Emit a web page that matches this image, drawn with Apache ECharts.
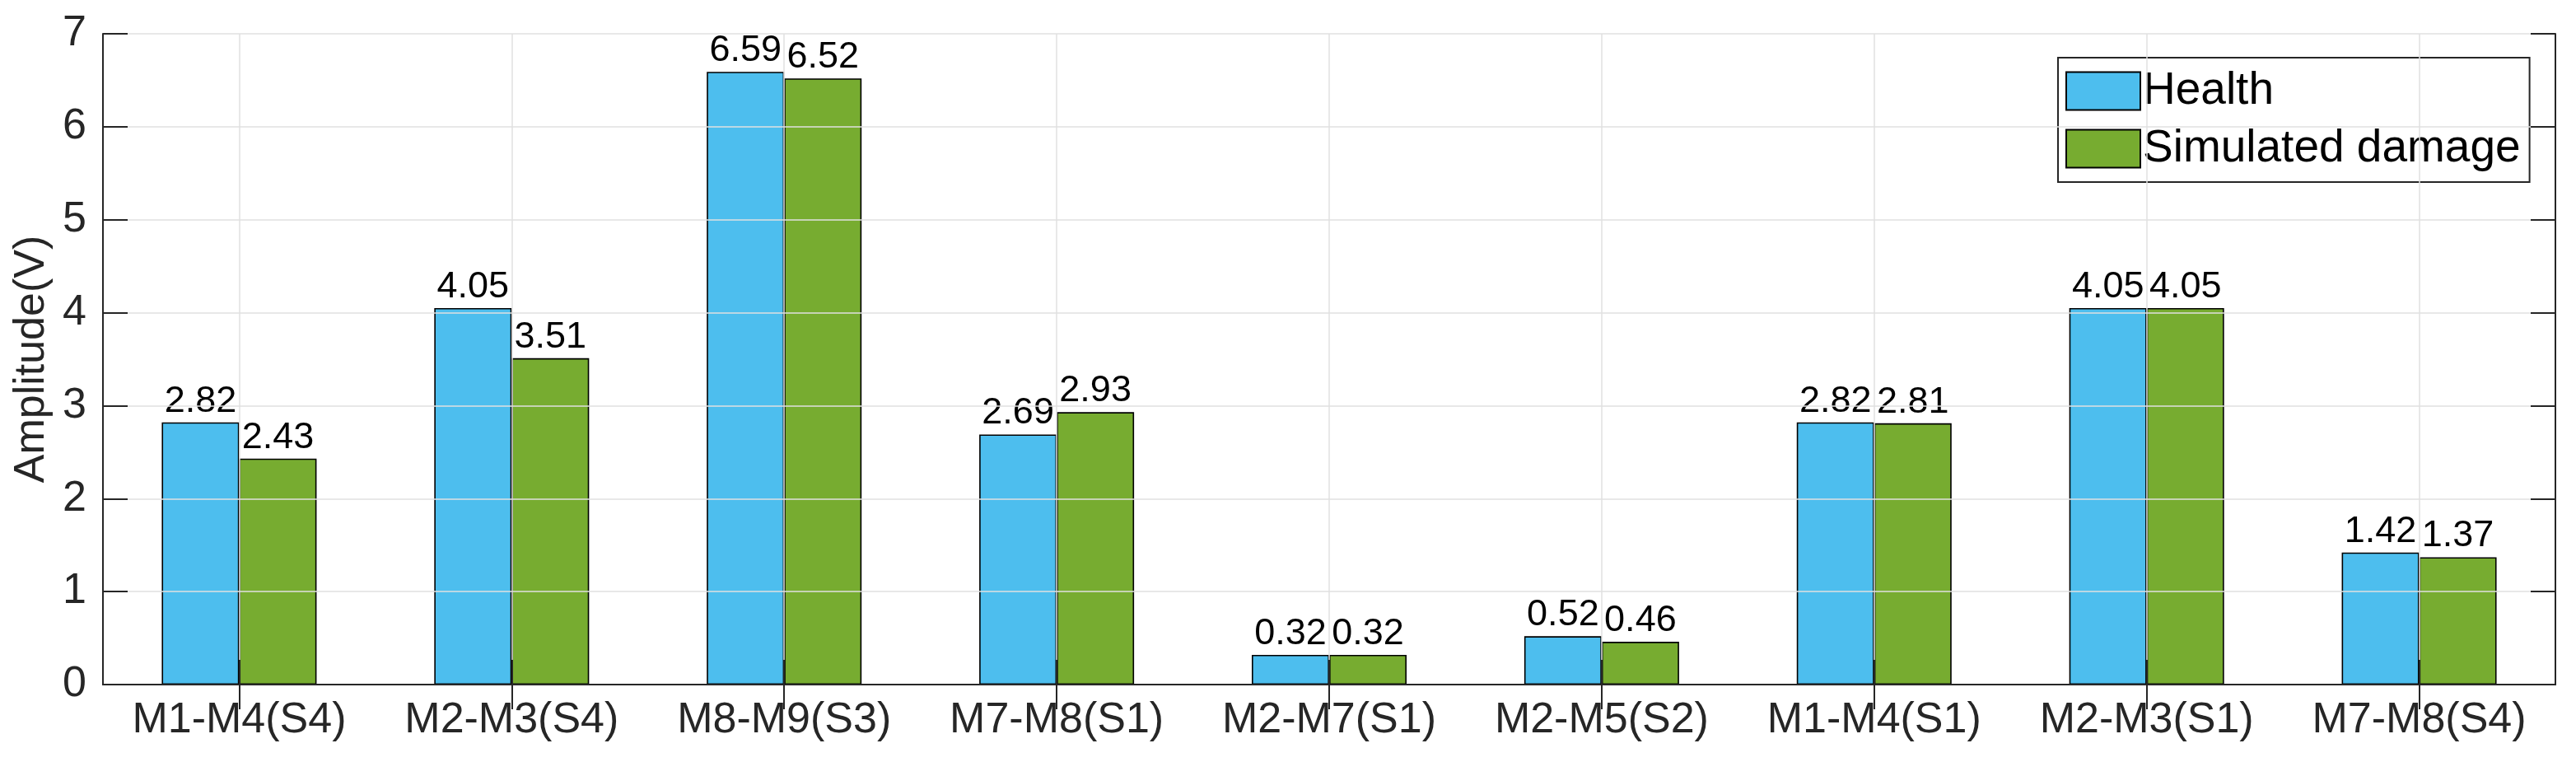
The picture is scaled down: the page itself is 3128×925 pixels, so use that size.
<!DOCTYPE html>
<html>
<head>
<meta charset="utf-8">
<script src="https://cdn.jsdelivr.net/npm/echarts@6/dist/echarts.min.js"></script>
<style>
  html, body { margin: 0; padding: 0; background: #fff; }
  #chart { width: 3128px; height: 925px; }
</style>
</head>
<body>
<div id="chart"></div>
<script>
var categories = ['M1-M4(S4)', 'M2-M3(S4)', 'M8-M9(S3)', 'M7-M8(S1)', 'M2-M7(S1)', 'M2-M5(S2)', 'M1-M4(S1)', 'M2-M3(S1)', 'M7-M8(S4)']
var healthVals = [2.82, 4.05, 6.59, 2.69, 0.32, 0.52, 2.82, 4.05, 1.42]
var damageVals = [2.43, 3.51, 6.52, 2.93, 0.32, 0.46, 2.81, 4.05, 1.37]
var seriesNames = ['Health', 'Simulated damage']
var seriesColors = ['#4DBEEE', '#77AC30']

var axisColor = '#262626'
var fontName = 'Arial, "Liberation Sans", Helvetica, sans-serif'

// 四边坐标轴都带向内的刻度
function catAxis (pos, showLabel) {
  return {
    type: 'category',
    position: pos,
    data: categories,
    axisLine: { show: true, lineStyle: { color: axisColor, width: 2 } },
    axisTick: { show: true, inside: true, length: 30, alignWithLabel: true, interval: 0, lineStyle: { color: axisColor, width: 2 } },
    axisLabel: { show: showLabel, interval: 0, margin: 18, color: axisColor, fontSize: 52, fontFamily: fontName },
    splitLine: { show: showLabel, alignWithLabel: true, interval: 0, lineStyle: { color: '#e0e0e0', width: 1.5 } },
    z: 5
  }
}
function valAxis (pos, showLabel) {
  return {
    type: 'value',
    position: pos,
    min: 0,
    max: 7,
    interval: 1,
    name: showLabel ? 'Amplitude(V)' : '',
    nameLocation: 'middle',
    nameGap: 60,
    nameTextStyle: { color: axisColor, fontSize: 52, fontFamily: fontName },
    axisLine: { show: true, lineStyle: { color: axisColor, width: 2 } },
    axisTick: { show: true, inside: true, length: 30, lineStyle: { color: axisColor, width: 2 } },
    axisLabel: { show: showLabel, margin: 20, color: axisColor, fontSize: 52, fontFamily: fontName },
    splitLine: { show: showLabel, lineStyle: { color: '#e0e0e0', width: 1.5 } },
    z: 5
  }
}

function barSeries (idx, vals) {
  return {
    name: seriesNames[idx],
    type: 'bar',
    data: vals,
    barWidth: 94,
    barGap: '0%',
    itemStyle: { color: seriesColors[idx], borderColor: '#000', borderWidth: 1.6 },
    label: {
      show: true,
      position: 'top',
      distance: 3,
      color: '#000',
      fontSize: 45,
      fontFamily: fontName,
      formatter: function (p) { return p.value.toFixed(2) }
    },
    z: 3
  }
}

var chart = echarts.init(document.getElementById('chart'))
chart.setOption({
  animation: false,
  backgroundColor: '#fff',
  grid: { left: 125, right: 25, top: 41, bottom: 94 },
  legend: {
    orient: 'vertical',
    left: 2499,
    top: 70,
    padding: [13, 11, 13, 9],
    itemWidth: 90,
    itemHeight: 46,
    itemGap: 15,
    icon: 'rect',
    backgroundColor: '#fff',
    borderColor: axisColor,
    borderWidth: 2,
    selectedMode: false,
    textStyle: { color: '#000', fontSize: 55, fontFamily: fontName, padding: [0, 0, 0, -2] },
    data: seriesNames
  },
  xAxis: [catAxis('bottom', true), catAxis('top', false)],
  yAxis: [valAxis('left', true), valAxis('right', false)],
  series: [barSeries(0, healthVals), barSeries(1, damageVals)]
})
</script>
</body>
</html>
